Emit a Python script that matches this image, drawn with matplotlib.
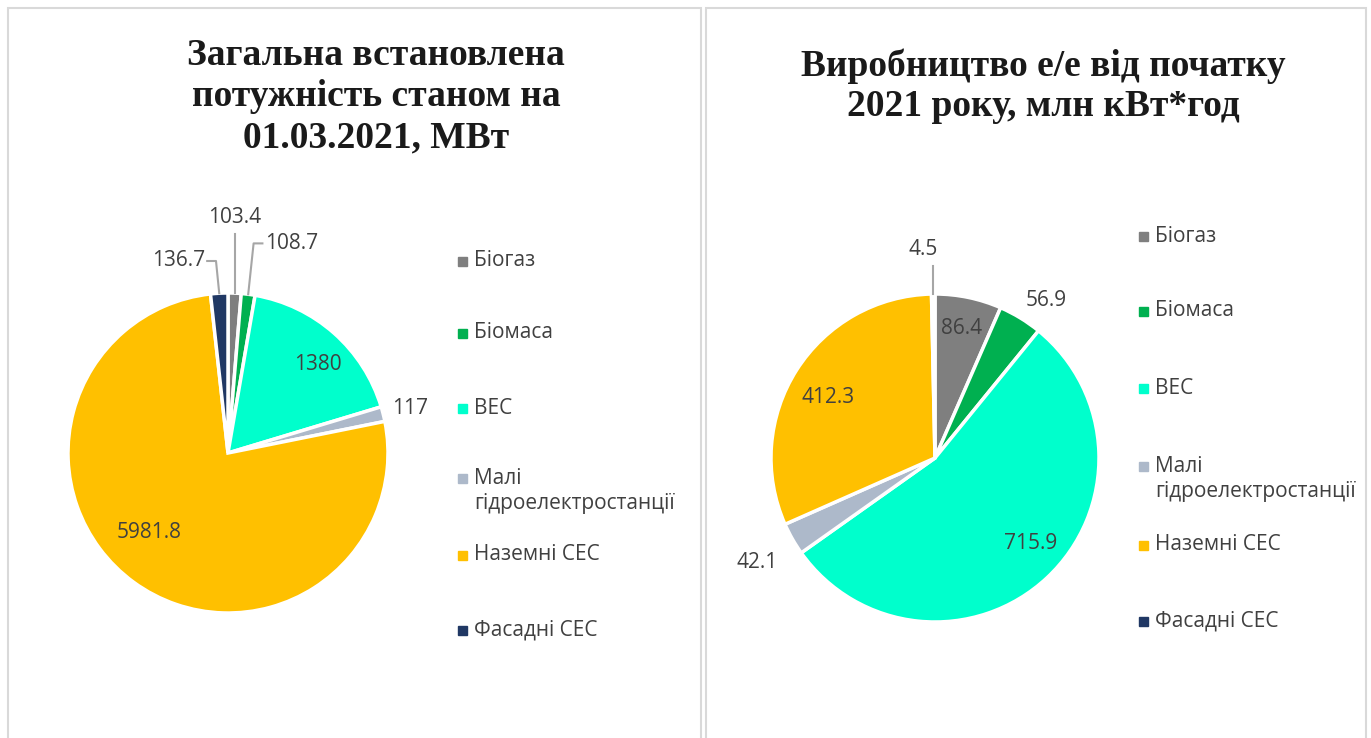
import numpy as np
import matplotlib.pyplot as plt
from matplotlib.patches import Rectangle

# categories and colours
categories = ['Біогаз', 'Біомаса', 'ВЕС', 'Малі\nгідроелектростанції', 'Наземні СЕС', 'Фасадні СЕС']
colors = ['#7f7f7f', '#00b050', '#00ffcc', '#adb9ca', '#ffc000', '#203864']

# installed capacity, MW
capacity = [103.4, 108.7, 1380, 117, 5981.8, 136.7]
capacity_labels = ['103.4', '108.7', '1380', '117', '5981.8', '136.7']

# production since start of 2021, mln kWh
production = [86.4, 56.9, 715.9, 42.1, 412.3, 4.5]
production_labels = ['86.4', '56.9', '715.9', '42.1', '412.3', '4.5']

W, H = 1371, 738
TXT = '#404040'
LEAD = '#a6a6a6'
FS = 15

plt.rcParams['font.family'] = ['Open Sans', 'DejaVu Sans']
fig = plt.figure(figsize=(W / 100, H / 100), dpi=100)


def px_box(cx, cy, r, k=1.6):
    return [(cx - k * r) / W, (H - cy - k * r) / H, 2 * k * r / W, 2 * k * r / H]


def draw_pie(cx, cy, r, values, labels, label_style):
    ax = fig.add_axes(px_box(cx, cy, r))
    wedges, _ = ax.pie(values, colors=colors, startangle=90, counterclock=False,
                       radius=1.0, wedgeprops=dict(edgecolor='white', linewidth=2.5))
    ax.set_xlim(-1.6, 1.6)
    ax.set_ylim(-1.6, 1.6)
    ax.set_aspect('equal')
    ax.axis('off')
    for w, lab, (tx, ty, kind) in zip(wedges, labels, label_style):
        mid = np.deg2rad((w.theta1 + w.theta2) / 2)
        ex, ey = np.cos(mid), np.sin(mid)
        if kind == 'v':
            ax.plot([ex, ex], [ey, ty - 0.1], color=LEAD, lw=1.5, clip_on=False)
            ax.text(tx, ty, lab, ha='center', va='center', fontsize=FS, color=TXT)
        elif kind == 'l':
            ax.plot([ex, tx - 0.07, tx - 0.015], [ey, ty, ty], color=LEAD, lw=1.5, clip_on=False)
            ax.text(tx, ty, lab, ha='left', va='center', fontsize=FS, color=TXT)
        elif kind == 'r':
            ax.plot([ex, tx + 0.07, tx + 0.015], [ey, ty, ty], color=LEAD, lw=1.5, clip_on=False)
            ax.text(tx, ty, lab, ha='right', va='center', fontsize=FS, color=TXT)
        else:
            ax.text(tx, ty, lab, ha='center', va='center', fontsize=FS, color=TXT)
    return ax


# label positions in pie-radius units
left_style = [(0.044, 1.47, 'v'), (0.23, 1.31, 'l'), (0.56, 0.55, None),
              (1.14, 0.275, None), (-0.49, -0.5, None), (-0.145, 1.2, 'r')]
right_style = [(0.165, 0.79, None), (0.68, 0.96, None), (0.585, -0.52, None),
               (-1.085, -0.64, None), (-0.65, 0.37, None), (-0.073, 1.27, 'v')]

draw_pie(228, 453, 160, capacity, capacity_labels, left_style)
draw_pie(935, 458, 164, production, production_labels, right_style)

# titles
fig.text(376 / W, 1 - 97 / H, 'Загальна встановлена\nпотужність станом на\n01.03.2021, МВт',
         ha='center', va='center', fontsize=27, fontweight='bold', family='Liberation Serif',
         color='#1a1a1a', linespacing=1.24)
fig.text(1043 / W, 1 - 86.5 / H, 'Виробництво е/е від початку\n2021 року, млн кВт*год',
         ha='center', va='center', fontsize=27, fontweight='bold', family='Liberation Serif',
         color='#1a1a1a', linespacing=1.2)


def legend(x, ys):
    for cat, col, y in zip(categories, colors, ys):
        fig.add_artist(Rectangle(((x - 4.5) / W, 1 - (y + 4.5) / H), 9 / W, 9 / H,
                                 transform=fig.transFigure, color=col))
        ty = y + 13 if '\n' in cat else y
        fig.text((x + 12) / W, 1 - ty / H, cat, ha='left', va='center',
                 fontsize=FS, color=TXT, linespacing=1.3)


legend(462, [261, 333, 408, 478, 555, 630])
legend(1143, [236, 311, 388, 466, 545, 621])

# panel borders
for x0, x1 in [(8, 701), (706, 1366)]:
    fig.add_artist(Rectangle((x0 / W, -0.1), (x1 - x0) / W, 1.1 - 8 / H,
                             transform=fig.transFigure, fill=False,
                             edgecolor='#d9d9d9', lw=1.5))

fig.savefig('out.png', dpi=100, facecolor='white')
